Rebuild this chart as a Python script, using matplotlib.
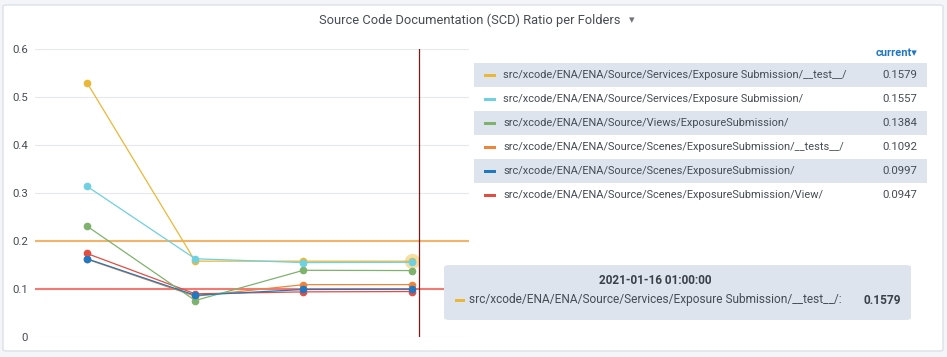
import numpy as np
import matplotlib.pyplot as plt
from matplotlib.patches import FancyBboxPatch, Rectangle

plt.rcParams['font.family'] = ['Roboto', 'DejaVu Sans']

# data (4 snapshots, last one 2021-01-16 01:00:00)
steps = [0, 1, 2, 3]
names = ['src/xcode/ENA/ENA/Source/Services/Exposure Submission/__test__/',
         'src/xcode/ENA/ENA/Source/Services/Exposure Submission/',
         'src/xcode/ENA/ENA/Source/Views/ExposureSubmission/',
         'src/xcode/ENA/ENA/Source/Scenes/ExposureSubmission/__tests__/',
         'src/xcode/ENA/ENA/Source/Scenes/ExposureSubmission/',
         'src/xcode/ENA/ENA/Source/Scenes/ExposureSubmission/View/']
svc_test = [0.530, 0.158, 0.158, 0.1579]
svc = [0.314, 0.163, 0.155, 0.1557]
views = [0.231, 0.076, 0.139, 0.1384]
scenes_tests = [0.162, 0.085, 0.109, 0.1092]
scenes = [0.163, 0.087, 0.099, 0.0997]
scenes_view = [0.174, 0.090, 0.094, 0.0947]
current = ['0.1579', '0.1557', '0.1384', '0.1092', '0.0997', '0.0947']
colors = ['#EAB839', '#6ED0E0', '#7EB26D', '#EF843C', '#1F78C1', '#E24D42']
thresholds = [0.2, 0.1]
threshold_colors = ['#F0B46A', '#F27A72']
yticks = [0, 0.1, 0.2, 0.3, 0.4, 0.5, 0.6]
hover_time = '2021-01-16 01:00:00'

series = [svc_test, svc, views, scenes_tests, scenes, scenes_view]
# drawing order so the blue / cyan lines sit on top like in grafana
draw_order = [0, 5, 3, 2, 1, 4]

W, H = 947, 357
fig = plt.figure(figsize=(W / 100, H / 100), dpi=100)
fig.patch.set_facecolor('#f4f5f8')

def px(x, y):
    return x / W, 1 - y / H

# panel background (behind the axes)
panel = FancyBboxPatch(px(3, 351), 940 / W, 346 / H, boxstyle='round,pad=0,rounding_size=0.004',
                       transform=fig.transFigure, facecolor='white', edgecolor='#dce1e8', lw=1,
                       zorder=-5)
fig.patches.append(panel)

fig.text(470 / W, 1 - 20 / H, 'Source Code Documentation (SCD) Ratio per Folders',
         ha='center', va='center', fontsize=9.3, color='#464c54')
fig.text(632 / W, 1 - 20 / H, '\u25BE', ha='center', va='center', fontsize=8, color='#6e737a')

# plot area
ax = fig.add_axes([35 / W, 1 - 337 / H, 434 / W, 288 / H])
ax.set_facecolor('none')
for s in ax.spines.values():
    s.set_visible(False)
ax.set_ylim(0, 0.6)
ax.set_xlim(-0.48, 3.53)
ax.set_yticks(yticks)
ax.set_yticklabels(['0', '0.1', '0.2', '0.3', '0.4', '0.5', '0.6'])
ax.tick_params(axis='y', length=0, pad=5, labelsize=8.2, labelcolor='#464c54')
ax.set_xticks([])
ax.grid(axis='y', color='#e6e8eb', lw=0.8)
ax.set_axisbelow(True)

for t, c in zip(thresholds, threshold_colors):
    ax.axhline(t, color=c, lw=1.5, zorder=1)

# hover halo on last point of the first series
ax.plot(steps[-1], svc_test[-1], 'o', ms=11, color=colors[0], alpha=0.45, mec='none', zorder=2)
for i in draw_order:
    ax.plot(steps, series[i], '-o', color=colors[i], lw=0.9, ms=4.5, mec=colors[i], zorder=3)

ax.axvline(3.065, color='#7a1a1a', lw=0.9, zorder=4)

# legend table
fig.text(917 / W, 1 - 53 / H, 'current\u25BE', ha='right', va='center', fontsize=8,
         color='#1f78c1', fontweight='bold')
for i, (name, c, val) in enumerate(zip(names, colors, current)):
    yc = 75 + 24 * i
    if i % 2 == 0:
        fig.patches.append(Rectangle(px(474, yc + 12), 453 / W, 24 / H, zorder=-4,
                                     transform=fig.transFigure, facecolor='#dde4ed', edgecolor='none'))
    fig.patches.append(Rectangle(px(484, yc + 1.5), 12 / W, 3 / H,
                                 transform=fig.transFigure, facecolor=c, edgecolor='none'))
    fig.text(503 / W, 1 - yc / H, name, ha='left', va='center', fontsize=7.9, color='#464c54')
    fig.text(917 / W, 1 - yc / H, val, ha='right', va='center', fontsize=8.2, color='#464c54')

# tooltip
tip = FancyBboxPatch(px(444, 320), 467 / W, 55 / H, boxstyle='round,pad=0,rounding_size=0.006',
                     transform=fig.transFigure, facecolor='#dde4ed', edgecolor='none', zorder=5)
fig.patches.append(tip)
fig.text(655 / W, 1 - 281 / H, hover_time, ha='center', va='center', fontsize=8.5,
         fontweight='bold', color='#3b4048', zorder=6)
fig.patches.append(Rectangle(px(455, 301.5), 10 / W, 3 / H, transform=fig.transFigure,
                             facecolor=colors[0], edgecolor='none', zorder=6))
fig.text(469 / W, 1 - 300 / H, names[0] + ':', ha='left', va='center', fontsize=8.6,
         color='#464c54', zorder=6)
fig.text(901 / W, 1 - 300 / H, current[0], ha='right', va='center', fontsize=8.6,
         fontweight='bold', color='#3b4048', zorder=6)

fig.savefig('out.png', dpi=100)
